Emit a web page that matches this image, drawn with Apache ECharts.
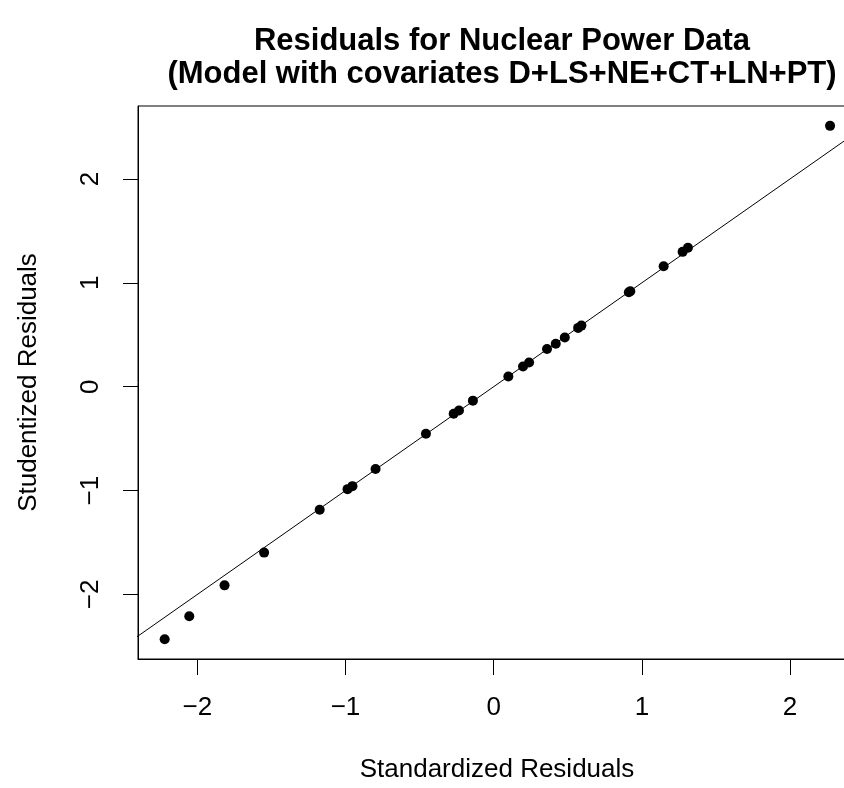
<!DOCTYPE html>
<html>
<head>
<meta charset="utf-8">
<script src="https://cdn.jsdelivr.net/npm/echarts@6/dist/echarts.min.js"></script>
<style>
html, body { margin: 0; padding: 0; overflow: hidden; background: #fff; width: 844px; height: 788px; }
#chart { position: absolute; left: 0; top: 0; width: 860px; height: 788px; }
</style>
</head>
<body>
<div id="chart"></div>
<script>
// Standardized residuals (x) and studentized residuals (y)
const stdResiduals = [-2.220, -2.054, -1.816, -1.549, -1.174, -0.986, -0.953, -0.797, -0.457, -0.270, -0.234, -0.140, 0.099, 0.198, 0.239, 0.360, 0.419, 0.480, 0.570, 0.592, 0.912, 0.922, 1.147, 1.275, 1.311, 2.270];
const studResiduals = [-2.431, -2.210, -1.912, -1.597, -1.184, -0.986, -0.957, -0.792, -0.452, -0.261, -0.229, -0.134, 0.099, 0.195, 0.233, 0.363, 0.414, 0.474, 0.566, 0.588, 0.909, 0.918, 1.159, 1.298, 1.337, 2.511];
// Reference line y = x
const refLineX = [-3, 3];
const refLineY = [-3, 3];
// Tick values
const xTicks = [-2, -1, 0, 1, 2];
const yTicks = [-2, -1, 0, 1, 2];

const points = stdResiduals.map((v, i) => [v, studResiduals[i]]);
const linePts = refLineX.map((v, i) => [v, refLineY[i]]);
const FONT = 'Liberation Sans, Arial, Helvetica, sans-serif';
const fmt = v => String(v).replace('-', '\u2212');

const chart = echarts.init(document.getElementById('chart'));
chart.setOption({
  animation: false,
  backgroundColor: '#ffffff',
  title: {
    text: 'Residuals for Nuclear Power Data\n(Model with covariates D+LS+NE+CT+LN+PT)',
    left: 497,
    top: 20,
    textAlign: 'center',
    textStyle: { fontFamily: FONT, fontSize: 31, fontWeight: 'bold', color: '#000', lineHeight: 33 }
  },
  grid: {
    left: 138, top: 106, right: 4, bottom: 125,
    show: true, borderColor: '#000', borderWidth: 1, backgroundColor: 'transparent'
  },
  xAxis: {
    type: 'value', min: -2.40, max: 2.445,
    name: 'Standardized Residuals', nameLocation: 'middle', nameGap: 98,
    nameTextStyle: { fontFamily: FONT, fontSize: 26, color: '#000' },
    axisLine: { show: true, onZero: false, lineStyle: { color: '#000', width: 1 } },
    axisTick: { show: true, inside: false, length: 16, customValues: xTicks, lineStyle: { color: '#000', width: 1 } },
    axisLabel: { customValues: xTicks, margin: 36, fontFamily: FONT, fontSize: 26, color: '#000', formatter: fmt },
    splitLine: { show: false }
  },
  yAxis: {
    type: 'value', min: -2.621, max: 2.702,
    name: 'Studentized Residuals', nameLocation: 'middle', nameGap: 96, nameRotate: 90,
    nameTextStyle: { fontFamily: FONT, fontSize: 26, color: '#000' },
    axisLine: { show: true, onZero: false, lineStyle: { color: '#000', width: 1 } },
    axisTick: { show: true, inside: false, length: 15, customValues: yTicks, lineStyle: { color: '#000', width: 1 } },
    axisLabel: { customValues: yTicks, rotate: 90, margin: 34, fontFamily: FONT, fontSize: 26, color: '#000', formatter: fmt },
    splitLine: { show: false }
  },
  series: [
    {
      type: 'line', data: linePts, showSymbol: false, symbol: 'none', clip: true,
      lineStyle: { color: '#000', width: 1 }, silent: true, z: 2
    },
    {
      type: 'scatter', data: points, symbol: 'circle', symbolSize: 10,
      itemStyle: { color: '#000', opacity: 1 }, z: 3
    }
  ]
});
</script>
</body>
</html>
